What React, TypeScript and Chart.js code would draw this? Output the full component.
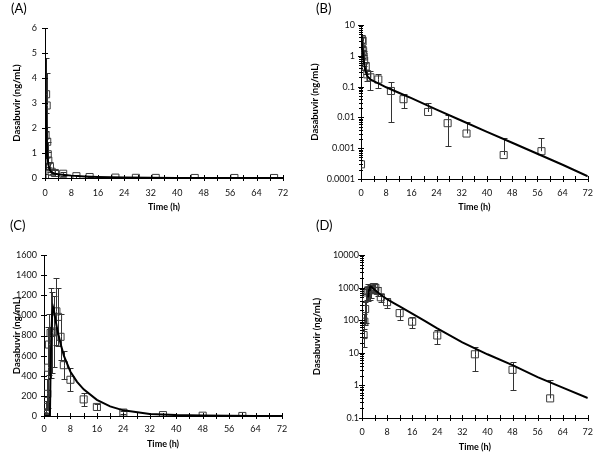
import React, { useEffect, useRef } from "react";
import { Chart, registerables } from "chart.js";

Chart.register(...registerables);

// ---------- Data: panels (A) and (B) ----------
const obsTimeAB = [0, 0.17, 0.33, 0.5, 0.67, 0.83, 1, 1.5, 2, 3, 5.5, 9.5, 13.5, 21.3, 27.5, 33.5, 45.3, 57.3, 69.3];
const obsConcAB = [0.0003, 1.7, 3.35, 2.9, 1.45, 0.95, 0.7, 0.45, 0.25, 0.2, 0.17, 0.072, 0.039, 0.015, 0.0065, 0.003, 0.0006, 0.0008, 0];
const obsSdAB = [0, 0.9, 1.45, 1.3, 0.6, 0.5, 0.35, 0.2, 0.1, 0.12, 0.08, 0.065, 0.019, 0.015, 0.0053, 0.004, 0.0016, 0.0013, 0];
const fitTimeAB = [0, 0.05, 0.12, 0.25, 0.5, 0.75, 1, 1.5, 2, 3, 4, 6, 8, 12, 16, 24, 32, 40, 48, 56, 64, 72];
const fitConcAB = [0, 2.0, 4.8, 3.2, 1.6, 0.9, 0.55, 0.3, 0.22, 0.17, 0.15, 0.12, 0.095, 0.063, 0.042, 0.018, 0.0078, 0.0034, 0.0015, 0.00066, 0.00029, 0.000123];

// ---------- Data: panels (C) and (D) ----------
const obsTimeCD = [0, 0.5, 0.75, 1, 1.25, 1.5, 2, 2.5, 3, 3.75, 4.25, 5, 6, 8, 12, 16, 24, 36, 48, 60];
const obsConcCD = [0, 35, 90, 220, 480, 710, 825, 830, 840, 1040, 985, 787, 505, 360, 165, 90, 34, 9, 3, 0.4];
const obsSdCD = [5, 20, 60, 150, 400, 300, 450, 400, 350, 330, 290, 230, 140, 115, 62, 34, 16, 6.2, 2.3, 1.1];
const fitTimeCD = [0, 1.8, 2, 2.25, 2.5, 2.75, 3, 3.5, 4, 5, 6, 8, 10, 12, 16, 20, 24, 32, 40, 48, 56, 64, 72];
const fitConcCD = [0, 0, 500, 850, 1020, 1080, 1050, 950, 860, 720, 600, 440, 340, 265, 160, 95, 56, 21, 9, 4.2, 1.8, 0.85, 0.41];

// ---------- Tick labels ----------
const xTickValues = [0, 8, 16, 24, 32, 40, 48, 56, 64, 72];
const xTickLabels = ["0", "8", "16", "24", "32", "40", "48", "56", "64", "72"];
const xMinorTicks = [4, 12, 20, 28, 36, 44, 52, 60, 68];
const yTicksA = [0, 1, 2, 3, 4, 5, 6];
const yLabelsA = ["0", "1", "2", "3", "4", "5", "6"];
const yTicksB = [0.0001, 0.001, 0.01, 0.1, 1, 10];
const yLabelsB = ["0.0001", "0.001", "0.01", "0.1", "1", "10"];
const yTicksC = [0, 200, 400, 600, 800, 1000, 1200, 1400, 1600];
const yLabelsC = ["0", "200", "400", "600", "800", "1000", "1200", "1400", "1600"];
const yTicksD = [0.1, 1, 10, 100, 1000, 10000];
const yLabelsD = ["0.1", "1", "10", "100", "1000", "10000"];

const yTitle = "Dasabuvir (ng/mL)";
const xTitle = "Time (h)";
const FONT = "Lato";

type PanelCfg = {
  label: string;
  left: number; top: number; w: number; h: number;
  area: { l: number; r: number; t: number; b: number };
  log: boolean;
  obsT: number[]; obsC: number[]; obsSd: number[];
  fitT: number[]; fitC: number[];
  yTicks: number[]; yLabels: string[];
  xLabelPad: number; yLabelPad: number; xTitlePad: number; yTitlePad: number;
};

function makePlugins(cfg: PanelCfg) {
  const errorBars = {
    id: "errorBars",
    beforeDatasetsDraw(chart: any) {
      const { ctx, chartArea } = chart;
      const xs = chart.scales.x, ys = chart.scales.y;
      ctx.save();
      ctx.beginPath();
      ctx.rect(chartArea.left, chartArea.top - 1, chartArea.right - chartArea.left + 1, chartArea.bottom - chartArea.top + 1);
      ctx.clip();
      ctx.strokeStyle = "#333";
      ctx.lineWidth = 1;
      cfg.obsT.forEach((t, i) => {
        const v = cfg.obsC[i];
        const sd = cfg.obsSd[i];
        if (!sd || (cfg.log && v <= 0)) return;
        const px = Math.round(xs.getPixelForValue(t)) + 0.5;
        const py = ys.getPixelForValue(v);
        const hi = Math.round(ys.getPixelForValue(v + sd)) + 0.5;
        ctx.beginPath();
        ctx.moveTo(px, py);
        ctx.lineTo(px, hi);
        ctx.moveTo(px - 3, hi);
        ctx.lineTo(px + 3, hi);
        const lowV = v - sd;
        if (!cfg.log || lowV > 0) {
          const lo = Math.round(ys.getPixelForValue(lowV)) + 0.5;
          ctx.moveTo(px, py);
          ctx.lineTo(px, lo);
          ctx.moveTo(px - 3, lo);
          ctx.lineTo(px + 3, lo);
        }
        ctx.stroke();
      });
      ctx.restore();
    },
  };
  const crossTicks = {
    id: "crossTicks",
    afterDatasetsDraw(chart: any) {
      const { ctx, chartArea } = chart;
      const xs = chart.scales.x, ys = chart.scales.y;
      ctx.save();
      ctx.strokeStyle = "#000";
      ctx.lineWidth = 1;
      ctx.beginPath();
      [...xTickValues, ...xMinorTicks].forEach((v) => {
        const px = Math.round(xs.getPixelForValue(v)) + 0.5;
        ctx.moveTo(px, chartArea.bottom - 3);
        ctx.lineTo(px, chartArea.bottom + 3);
      });
      cfg.yTicks.forEach((v) => {
        const py = Math.round(ys.getPixelForValue(v)) + 0.5;
        ctx.moveTo(chartArea.left - 3, py);
        ctx.lineTo(chartArea.left + 3, py);
      });
      if (cfg.log) {
        for (let k = 0; k < cfg.yTicks.length - 1; k++) {
          for (let m = 2; m <= 9; m++) {
            const py = Math.round(ys.getPixelForValue(cfg.yTicks[k] * m)) + 0.5;
            ctx.moveTo(chartArea.left - 2, py);
            ctx.lineTo(chartArea.left + 2, py);
          }
        }
      }
      ctx.stroke();
      ctx.restore();
    },
  };
  return [errorBars, crossTicks];
}

function buildConfig(cfg: PanelCfg): any {
  const toPts = (ts: number[], cs: number[]) =>
    ts.map((t, i) => ({ x: t, y: cfg.log && cs[i] <= 0 ? null : cs[i] }));
  return {
    type: "scatter",
    data: {
      datasets: [
        {
          label: "model",
          data: toPts(cfg.fitT, cfg.fitC),
          showLine: true,
          borderColor: "#000",
          borderWidth: 2,
          pointRadius: 0,
          tension: 0,
          spanGaps: false,
        },
        {
          label: "observed",
          data: toPts(cfg.obsT, cfg.obsC),
          showLine: false,
          pointStyle: "rect",
          pointRadius: 5,
          pointBorderWidth: 1,
          pointBorderColor: "#3c3c3c",
          pointBackgroundColor: "rgba(255,255,255,0)",
        },
      ],
    },
    options: {
      animation: false,
      responsive: false,
      events: [],
      layout: {
        padding: {
          left: 0,
          top: cfg.area.t,
          right: cfg.w - cfg.area.r,
          bottom: 0,
        },
      },
      plugins: { legend: { display: false }, tooltip: { enabled: false } },
      scales: {
        x: {
          type: "linear",
          min: 0,
          max: 72,
          afterBuildTicks: (s: any) => {
            s.ticks = xTickValues.map((v) => ({ value: v }));
          },
          afterFit: (s: any) => {
            s.height = cfg.h - cfg.area.b;
          },
          ticks: {
            autoSkip: false,
            maxRotation: 0,
            padding: cfg.xLabelPad,
            color: "#111",
            font: { family: FONT, size: 9 },
            callback: (_v: any, i: number) => xTickLabels[i],
          },
          grid: { display: false, drawTicks: false },
          border: { display: true, color: "#000", width: 1 },
          title: {
            display: true,
            text: xTitle,
            color: "#000",
            font: { family: FONT, size: 9, weight: "bold" },
            padding: { top: 0, bottom: cfg.xTitlePad },
          },
        },
        y: {
          type: cfg.log ? "logarithmic" : "linear",
          min: cfg.yTicks[0],
          max: cfg.yTicks[cfg.yTicks.length - 1],
          afterBuildTicks: (s: any) => {
            s.ticks = cfg.yTicks.map((v) => ({ value: v }));
          },
          afterFit: (s: any) => {
            s.width = cfg.area.l;
          },
          ticks: {
            autoSkip: false,
            padding: cfg.yLabelPad,
            color: "#111",
            font: { family: FONT, size: 9 },
            callback: (_v: any, i: number) => cfg.yLabels[i],
          },
          grid: { display: false, drawTicks: false },
          border: { display: true, color: "#000", width: 1 },
          title: {
            display: true,
            text: yTitle,
            color: "#000",
            font: { family: FONT, size: 9.5, weight: "bold" },
            padding: { top: cfg.yTitlePad, bottom: 0 },
          },
        },
      },
    },
    plugins: makePlugins(cfg),
  };
}

const panels: PanelCfg[] = [
  {
    label: "(A)", left: 0, top: 0, w: 301, h: 226,
    area: { l: 45, r: 283, t: 28, b: 178 }, log: false,
    obsT: obsTimeAB, obsC: obsConcAB, obsSd: obsSdAB, fitT: fitTimeAB, fitC: fitConcAB,
    yTicks: yTicksA, yLabels: yLabelsA,
    xLabelPad: 10, yLabelPad: 8, xTitlePad: 13.6, yTitlePad: 11,
  },
  {
    label: "(B)", left: 301, top: 0, w: 301, h: 226,
    area: { l: 60, r: 293, t: 25, b: 179 }, log: true,
    obsT: obsTimeAB, obsC: obsConcAB, obsSd: obsSdAB, fitT: fitTimeAB, fitC: fitConcAB,
    yTicks: yTicksB, yLabels: yLabelsB,
    xLabelPad: 9, yLabelPad: 6, xTitlePad: 13.6, yTitlePad: 8.6,
  },
  {
    label: "(C)", left: 0, top: 226, w: 301, h: 227,
    area: { l: 44, r: 282, t: 29, b: 190 }, log: false,
    obsT: obsTimeCD, obsC: obsConcCD, obsSd: obsSdCD, fitT: fitTimeCD, fitC: fitConcCD,
    yTicks: yTicksC, yLabels: yLabelsC,
    xLabelPad: 8, yLabelPad: 7, xTitlePad: 3.6, yTitlePad: 11.6,
  },
  {
    label: "(D)", left: 301, top: 226, w: 301, h: 227,
    area: { l: 61, r: 294, t: 29, b: 192 }, log: true,
    obsT: obsTimeCD, obsC: obsConcCD, obsSd: obsSdCD, fitT: fitTimeCD, fitC: fitConcCD,
    yTicks: yTicksD, yLabels: yLabelsD,
    xLabelPad: 9, yLabelPad: 3, xTitlePad: 1, yTitlePad: 10.6,
  },
];

const labelPos = [
  { x: 11, y: 1 },
  { x: 316, y: 1 },
  { x: 10, y: 218 },
  { x: 316, y: 218 },
];

function Panel({ cfg }: { cfg: PanelCfg }) {
  const ref = useRef<HTMLCanvasElement>(null);
  useEffect(() => {
    const chart = new Chart(ref.current as HTMLCanvasElement, buildConfig(cfg));
    return () => chart.destroy();
  }, [cfg]);
  return (
    <div style={{ position: "absolute", left: cfg.left, top: cfg.top, width: cfg.w, height: cfg.h }}>
      <canvas ref={ref} width={cfg.w} height={cfg.h} style={{ display: "block", width: cfg.w, height: cfg.h }} />
    </div>
  );
}

export default function App() {
  return (
    <div style={{ position: "fixed", left: 0, top: 0, width: 602, height: 453, background: "#fff", overflow: "hidden" }}>
      {panels.map((p) => (
        <Panel key={p.label} cfg={p} />
      ))}
      {panels.map((p, i) => (
        <div
          key={"lbl" + p.label}
          style={{
            position: "absolute",
            left: labelPos[i].x,
            top: labelPos[i].y,
            fontFamily: FONT,
            fontSize: 13,
            lineHeight: "15px",
            color: "#000",
          }}
        >
          {p.label}
        </div>
      ))}
    </div>
  );
}
